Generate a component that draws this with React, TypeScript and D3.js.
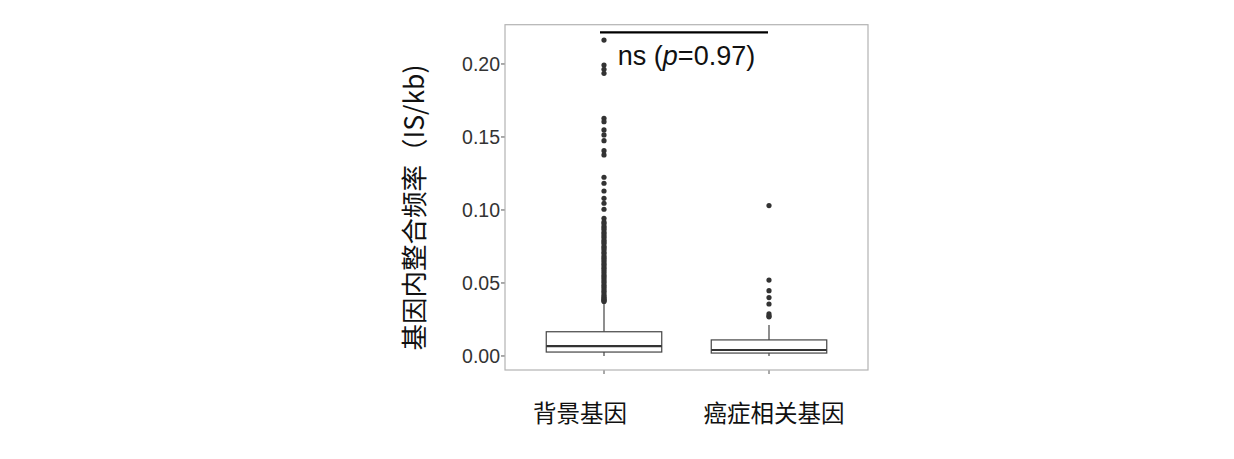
import React from "react";
import * as d3 from "d3";

const categories = ["背景基因", "癌症相关基因"];
const yTicks = [0, 0.05, 0.1, 0.15, 0.2];
// box stats: [lowerWhisker, q1, median, q3, upperWhisker]
const bgBox = [0.0, 0.0027, 0.0068, 0.0166, 0.036];
const cancerBox = [0.0, 0.002, 0.0041, 0.011, 0.0212];
const bgOutliers = [
  0.2164, 0.1993, 0.1964, 0.1936, 0.1628, 0.1605, 0.1548, 0.1514, 0.1475, 0.1406, 0.1377,
  0.1224, 0.1183, 0.113, 0.108, 0.1046, 0.1005, 0.0943,
  0.0918, 0.0907, 0.0889, 0.0876, 0.0864, 0.0847, 0.0835, 0.0821, 0.0809, 0.0793, 0.0781,
  0.077, 0.0752, 0.0741, 0.0729, 0.0713, 0.0702, 0.0686, 0.0674, 0.0663, 0.0648, 0.0633,
  0.0622, 0.0606, 0.0595, 0.0582, 0.0568, 0.0553, 0.0541, 0.0528, 0.0513, 0.0501, 0.0486,
  0.0475, 0.0461, 0.0446, 0.0435, 0.0419, 0.0408, 0.0399, 0.0391, 0.0385, 0.0378, 0.0373,
];
const cancerOutliers = [0.103, 0.052, 0.0447, 0.04, 0.0356, 0.0288, 0.0274, 0.0268];
const sigY = 0.2217;
const sigLabel = "p";
const yTitle = "基因内整合频率（IS/kb)";

const W = 1234;
const H = 459;
const panel = { left: 505, right: 868, top: 24.7, bottom: 370 };

export default function App() {
  const x = d3
    .scalePoint<string>()
    .domain(categories)
    .range([panel.left, panel.right])
    .padding(0.6);
  const y = d3.scaleLinear().domain([-0.0096, 0.2269]).range([panel.bottom, panel.top]);
  const bw = 0.7 * x.step();

  const boxes = [
    { cat: categories[0], s: bgBox, out: bgOutliers },
    { cat: categories[1], s: cancerBox, out: cancerOutliers },
  ];
  const cjk = "'Noto Sans CJK SC', 'Noto Sans', sans-serif";
  const latin = "'Liberation Sans', Arial, Helvetica, sans-serif";
  const x0 = x(categories[0])!;
  const x1 = x(categories[1])!;
  const labelDx = [-24, 5];

  return (
    <svg
      width={W}
      height={H}
      style={{ position: "absolute", left: 0, top: 0, background: "#fff" }}
    >
      <rect x={0} y={0} width={W} height={H} fill="#fff" />
      {/* y ticks */}
      {yTicks.map((t) => (
        <g key={t}>
          <line x1={panel.left - 4} x2={panel.left} y1={y(t)} y2={y(t)} stroke="#555" strokeWidth={1} />
          <text
            x={panel.left - 5}
            y={y(t)}
            dy="0.36em"
            textAnchor="end"
            fontFamily={latin}
            fontSize={19.5}
            fill="#333"
          >
            {d3.format(".2f")(t)}
          </text>
        </g>
      ))}
      {/* x ticks */}
      {categories.map((c, i) => (
        <g key={c}>
          <line x1={x(c)} x2={x(c)} y1={panel.bottom} y2={panel.bottom + 4} stroke="#555" strokeWidth={1} />
          <text
            x={x(c)! + labelDx[i]}
            y={422}
            textAnchor="middle"
            fontFamily={cjk}
            fontSize={23.5}
            fill="#111"
          >
            {c}
          </text>
        </g>
      ))}
      {/* boxes */}
      {boxes.map((b) => {
        const cx = x(b.cat)!;
        const [lw, q1, med, q3, uw] = b.s;
        return (
          <g key={b.cat}>
            <line x1={cx} x2={cx} y1={y(q3)} y2={y(uw)} stroke="#444" strokeWidth={1.2} />
            <line x1={cx} x2={cx} y1={y(q1)} y2={y(lw)} stroke="#444" strokeWidth={1.2} />
            <rect
              x={cx - bw / 2}
              y={y(q3)}
              width={bw}
              height={y(q1) - y(q3)}
              fill="#fff"
              stroke="#444"
              strokeWidth={1.2}
            />
            <line x1={cx - bw / 2} x2={cx + bw / 2} y1={y(med)} y2={y(med)} stroke="#333" strokeWidth={2.2} />
            {b.out.map((v, j) => (
              <circle key={j} cx={cx} cy={y(v)} r={2.6} fill="#333" />
            ))}
          </g>
        );
      })}
      {/* panel border */}
      <rect
        x={panel.left}
        y={panel.top}
        width={panel.right - panel.left}
        height={panel.bottom - panel.top}
        fill="none"
        stroke="#b3b3b3"
        strokeWidth={1.2}
      />
      {/* significance */}
      <line x1={x0 - 4} x2={x1 - 1} y1={y(sigY)} y2={y(sigY)} stroke="#000" strokeWidth={2.2} />
      <text
        x={(x0 + x1) / 2}
        y={65}
        textAnchor="middle"
        fontFamily={latin}
        fontSize={27}
        fill="#111"
      >
        ns (<tspan fontStyle="italic">{sigLabel}</tspan>=0.97)
      </text>
      {/* y title */}
      <text
        transform={`translate(${415},${207.5}) rotate(-90)`}
        textAnchor="middle"
        dy="0.35em"
        fontFamily={cjk}
        fontSize={26.5}
        fill="#111"
      >
        {yTitle}
      </text>
    </svg>
  );
}
